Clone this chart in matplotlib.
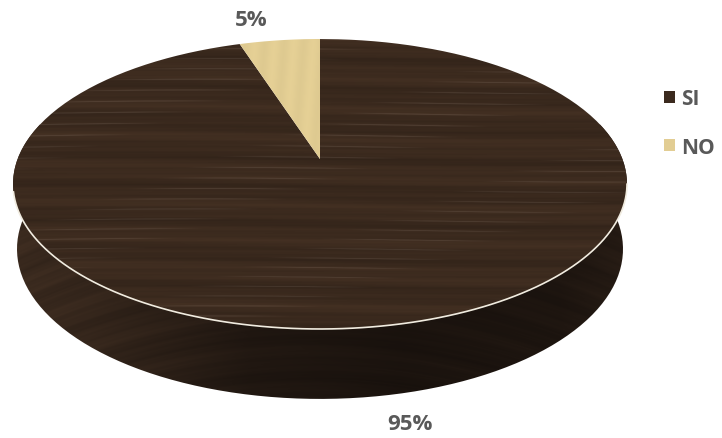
import numpy as np
import matplotlib
matplotlib.use("Agg")
import matplotlib.pyplot as plt
from matplotlib.patches import PathPatch
from matplotlib.path import Path
from matplotlib.transforms import Affine2D

labels = ["SI", "NO"]
values = [95, 5]
colors = ["#3b2a1e", "#e2cd93"]

W, H = 722, 439
# apex is not in the middle of the ellipse, so use a perspective map of the disk
CX, APEX_Y = 320, 160
P = 0.1724
A = 302.4
B = -113.1


def project(u, v):
    w = 1 + P * v
    return CX + A * u / w, (B * v + APEX_Y) / w


def project_side(u, v):
    x, y = project(u, v)
    return CX + 0.987 * (x - CX), 250 + 1.034 * (y - 185)


def grain(yy, xx):
    g = (np.sin(yy * 1.13 + 1.2 * np.sin(xx / 97) + 1.1 * np.sin(yy / 23)) * 0.35
         + np.sin(yy * 0.47 + 1.6 * np.sin(xx / 151 + 1) + 1.7 * np.sin(yy / 37)) * 0.6
         + np.sin(yy * 0.19 + 1.4 * np.sin(xx / 233 + 2)) * 0.8
         + np.sin(yy * 2.3 + 1.0 * np.sin(xx / 71 + 3) + 0.8 * np.sin(yy / 13)) * 0.2)
    return g


def streaks(yy, xx):
    s = (np.clip(np.sin(yy * 0.61 + 1.2 * np.sin(xx / 130) + 2 * np.sin(yy / 41)) - 0.93, 0, 1)
         * np.clip(np.sin(xx / 53 + yy / 19) + 0.2, 0, 1))
    return s * 12


fig = plt.figure(figsize=(W / 100, H / 100), dpi=100)
ax = fig.add_axes([0, 0, 1, 1])
wedges, _ = ax.pie(values, colors=colors, startangle=90, counterclock=False)
ax.set_aspect("auto")
ax.set_xlim(0, W)
ax.set_ylim(H, 0)
ax.axis("off")

xx, yy = np.meshgrid(np.arange(0, W, 0.5), np.arange(0, H, 0.5))

# side wall
t = np.radians(np.linspace(165, 375, 200))
top_x, top_y = project(np.cos(t), np.sin(t))
bot_x, bot_y = project_side(np.cos(t), np.sin(t))
side_path = Path(np.vstack([np.c_[bot_x, bot_y], np.c_[top_x, top_y][::-1], [[bot_x[0], bot_y[0]]]]))
side_clip = PathPatch(side_path, fc="none", ec="none", transform=ax.transData)
ax.add_patch(side_clip)
arc = 70 * (1 - ((xx - CX) / 307) ** 2)
g = grain((yy + arc) * 0.8, xx)
shade = np.interp(xx, [15, 90, 250, 400, 560, 625], [0.95, 0.85, 0.5, 0.4, 0.45, 0.6])
shade = shade * (1 + 0.07 * g) + 0.05 * streaks((yy + arc) * 0.8, xx)
side_rgb = np.dstack([58 * shade + 3, 42 * shade + 2, 30 * shade + 2]) / 255
side_im = ax.imshow(np.clip(side_rgb, 0, 1), extent=(0, W, H, 0), aspect="auto", zorder=1)
side_im.set_clip_path(side_clip)

# top of the pie, wedges come from ax.pie
for wedge, color in zip(wedges, colors):
    path = wedge.get_path().transformed(wedge.get_patch_transform())
    poly = path.transformed(Affine2D().scale(300)).to_polygons()[0] / 300
    px, py = project(poly[:, 0], poly[:, 1])
    wedge.set_visible(False)
    clip = PathPatch(Path(np.c_[px, py]), fc="none", ec="none", transform=ax.transData)
    ax.add_patch(clip)
    base = np.array(matplotlib.colors.to_rgb(color))
    if color == colors[0]:
        rgb = base[None, None, :] * (1 + 0.08 * grain(yy, xx)[..., None])
        rgb = rgb + 0.11 * np.clip(streaks(yy, xx), 0, 1)[..., None]
    else:
        rgb = base[None, None, :] * (1 + 0.015 * np.sin(xx / 3.1 + yy / 40)[..., None])
    im = ax.imshow(np.clip(rgb, 0, 1), extent=(0, W, H, 0), aspect="auto", zorder=2)
    im.set_clip_path(clip)

# thin rim on the front edge
t = np.radians(np.linspace(193, 350, 200))
rim_x, rim_y = project(np.cos(t), np.sin(t))
ax.plot(rim_x, rim_y, color="#f1ece0", lw=1.2, zorder=3)

ax.set_xlim(0, W)
ax.set_ylim(H, 0)

txt = dict(color="#595959", fontsize=16, fontweight="bold", family="Open Sans", ha="center", va="center")
ax.text(251, 20, f"{values[1]}%", **txt)
ax.text(410, 425, f"{values[0]}%", **txt)

handles = [plt.Rectangle((0, 0), 1, 1, fc=c, ec="none") for c in colors]
ax.legend(handles, labels, loc="center left", bbox_to_anchor=(645, 124), bbox_transform=ax.transData,
          frameon=False, handlelength=0.55, handleheight=0.55, handletextpad=0.3, labelspacing=1.3,
          prop=dict(family="Open Sans", weight="bold", size=15), labelcolor="#595959")

fig.savefig("out.png", dpi=100)
